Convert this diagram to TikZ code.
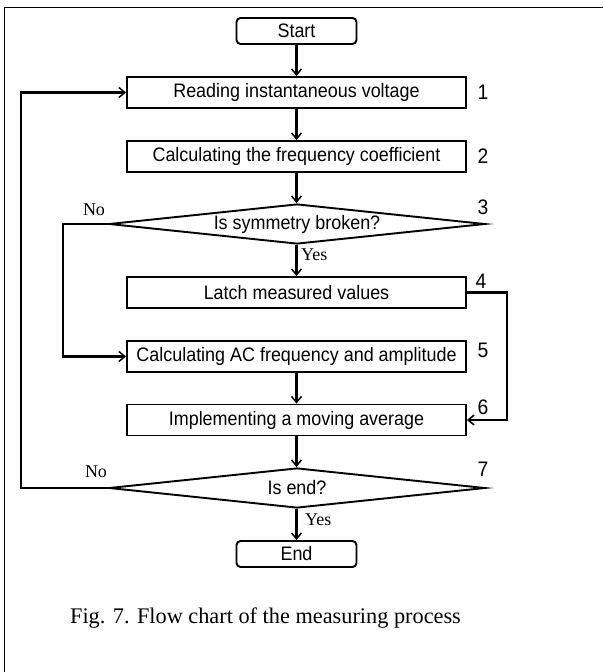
\documentclass[tikz,border=0pt]{standalone}
\usepackage{fontspec}
\setmainfont{Liberation Serif}
\newfontfamily\boxFont[FakeStretch=0.92]{Liberation Sans}
\usetikzlibrary{shapes.geometric,arrows.meta}
\newcommand{\tikzScale}{1.0}
\newcommand{\boxWidth}{339pt}
\tikzset{
  process/.style={draw, line width=1.9pt, minimum width=\boxWidth, minimum height=31pt,
    inner sep=0pt, font=\boxFont\fontsize{19.5}{21}\selectfont},
  terminal/.style={draw, line width=1.9pt, rounded corners=4pt, minimum width=120pt,
    minimum height=26pt, inner sep=0pt, font=\boxFont\fontsize{19.5}{21}\selectfont},
  decision/.style={draw, diamond, shape aspect=9.4, line width=1.9pt, minimum width=376pt,
    minimum height=40pt, inner sep=0pt, font=\boxFont\fontsize{19.5}{21}\selectfont},
  stepnum/.style={font=\boxFont\fontsize{21}{22}\selectfont},
  answer/.style={font=\fontsize{18}{20}\selectfont},
  flow/.style={line width=2.5pt, -{Straight Barb[length=6pt,width=10pt,line width=1.5pt]}}
}

\begin{document}
\begin{tikzpicture}[x=\tikzScale pt, y=-\tikzScale pt]
  \useasboundingbox (0,0) rectangle (603,672);
  \draw[line width=0.8pt] (4,672) -- (4,7.5) -- (603,7.5);

  \node (start) [terminal] at (296.5,31) {Start};
  \node (read) [process] at (296.5,92.5) {Reading instantaneous voltage};
  \node (coef) [process] at (296.5,156.5) {Calculating the frequency coefficient};
  \node (sym) [decision] at (297,224) {Is symmetry broken?};
  \node (latch) [process] at (296.5,292.5) {Latch measured values};
  \node (acfreq) [process] at (296.5,356.5) {Calculating AC frequency and amplitude};
  \node (avg) [process] at (296.5,420) {Implementing a moving average};
  \node (isend) [decision] at (297,488) {Is end?};
  \node (stop) [terminal] at (296.5,554) {End};

  \node (n1) [stepnum] at (483,92) {1};
  \node (n2) [stepnum] at (483,156) {2};
  \node (n3) [stepnum] at (483,207) {3};
  \node (n4) [stepnum] at (481,281) {4};
  \node (n5) [stepnum] at (483,350) {5};
  \node (n6) [stepnum] at (483,407) {6};
  \node (n7) [stepnum] at (483,469) {7};

  \draw[flow] (start) -- (read);
  \draw[flow] (read) -- (coef);
  \draw[flow] (coef.south) -- (coef.south |- sym.north);
  \draw[flow] (latch.north |- sym.south) -- node (yes1) [answer, right, pos=0.3] {Yes} (latch.north);
  \draw[flow] (acfreq) -- (avg);
  \draw[flow] (avg.south) -- (avg.south |- isend.north);
  \draw[flow] (stop.north |- isend.south) -- node (yes2) [answer, right, pos=0.35, xshift=4pt] {Yes} (stop.north);

  \draw[flow] (sym.west) -- ++(-45,0) |- (acfreq.west);
  \node (no1) [answer] at (94,210) {No};
  \draw[flow] (isend.west) -- ++(-87,0) |- (read.west);
  \node (no2) [answer] at (96,472) {No};
  \draw[flow] (latch.east) -- ++(40,0) |- (avg.east);

  \node (caption) [font=\fontsize{22.3}{24}\selectfont] at (265.5,618) {Fig. 7. Flow chart of the measuring process};
\end{tikzpicture}
\end{document}
